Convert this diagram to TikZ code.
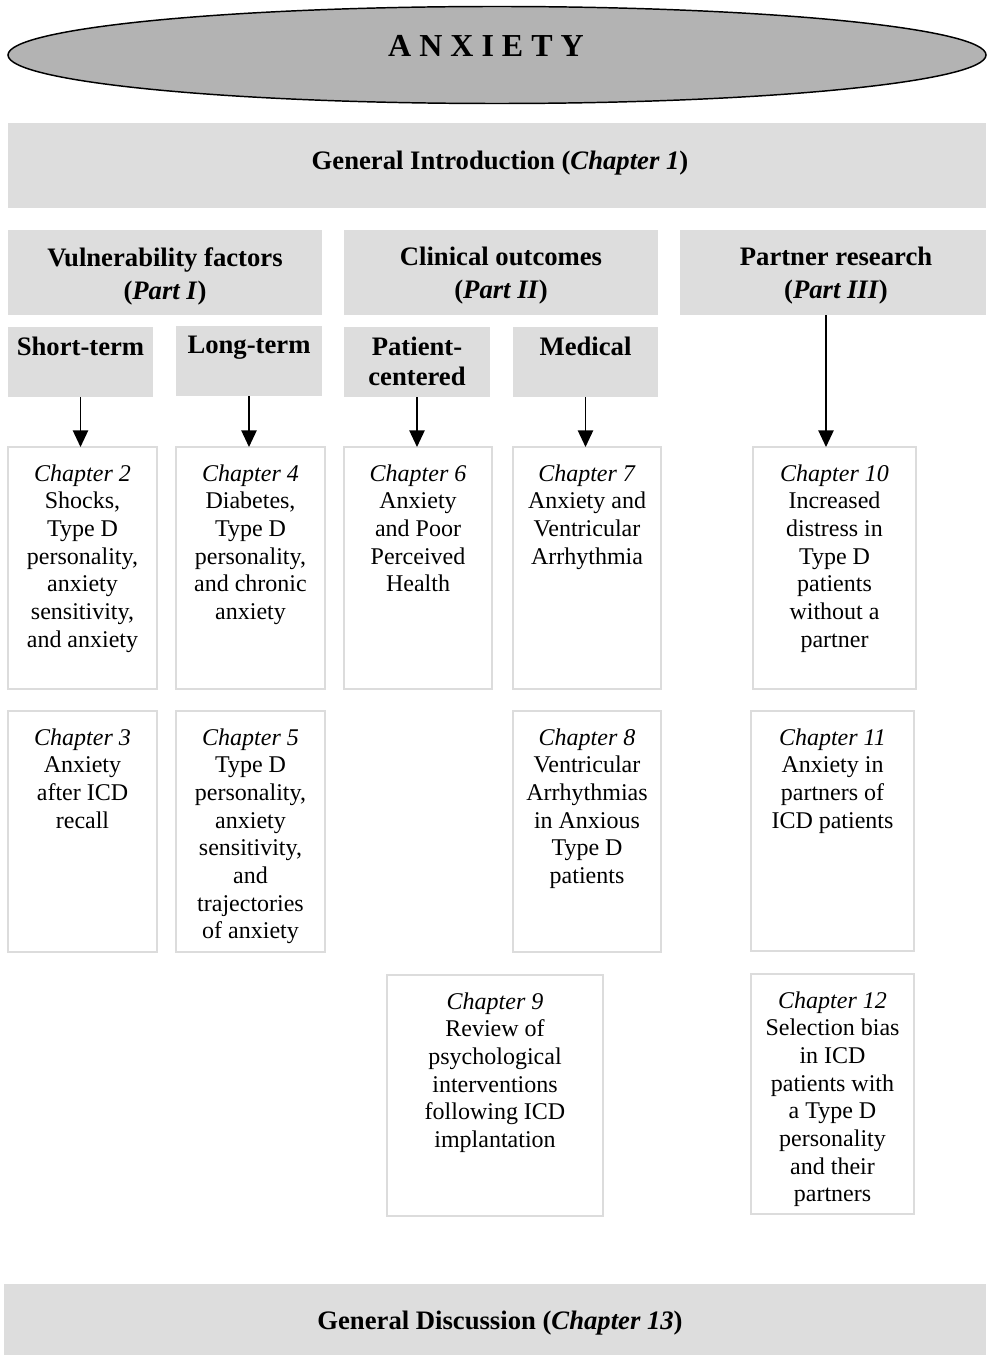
\documentclass[tikz,border=0pt]{standalone}
\usepackage{fontspec}
\setmainfont{Liberation Serif}
\usetikzlibrary{arrows.meta,shapes.geometric}
\definecolor{hdr}{HTML}{DDDDDD}
\definecolor{ellfill}{HTML}{B3B3B3}
\definecolor{bord}{HTML}{DCDCDC}
\newcommand\mkbox[6]{\node[#1, minimum width={(#5-#3)*0.75pt}, minimum height={(#6-#4)*0.75pt}] (#2) at ({(#3+#5)/2},{(#4+#6)/2}) {};}
\begin{document}
\begin{tikzpicture}[x=0.75pt,y=-0.75pt,
  gbox/.style={fill=hdr, draw=none, inner sep=0pt, outer sep=0pt},
  wbox/.style={fill=white, draw=bord, line width=1.5pt, inner sep=0pt, outer sep=0pt},
  body/.style={font=\fontsize{18}{20.75}\selectfont, align=center, inner sep=0pt, anchor=north},
  head/.style={font=\fontsize{20}{22.5}\selectfont\bfseries, align=center, inner sep=0pt, anchor=north},
  part/.style={font=\fontsize{20}{24.75}\selectfont\bfseries, align=center, inner sep=0pt},
  arr/.style={line width=1.1pt, -{Triangle[length=12.5pt, width=11.5pt]}}]
\useasboundingbox (0,0) rectangle (986,1355);

% title ellipse
\node[ellipse, fill=ellfill, draw=black, line width=1.1pt, minimum width={978*0.75pt}, minimum height={97*0.75pt}, inner sep=0pt] (anx) at (497,55) {};
\node[font=\fontsize{24}{28}\selectfont\bfseries, inner sep=0pt] (anxt) at (486,46) {A N X I E T Y};

% grey bars
\mkbox{gbox}{gi}{8}{123}{986}{208}
\node[part] (git) at (500,163) {General Introduction (\textit{Chapter 1})};

\mkbox{gbox}{vf}{8}{230}{322}{315}
\node[part] (vft) at (165,276) {Vulnerability factors\\(\textit{Part I})};
\mkbox{gbox}{co}{344}{230}{658}{315}
\node[part] (cot) at (501,276) {Clinical outcomes\\(\textit{Part II})};
\mkbox{gbox}{pr}{680}{230}{986}{315}
\node[part] (prt) at (836,276) {Partner research\\(\textit{Part III})};

\mkbox{gbox}{st}{8}{327}{153}{397}
\node[head] (stt) at ([yshift=-7.5pt]st.north) {Short-term};
\mkbox{gbox}{lt}{176}{326}{322}{396}
\node[head] (ltt) at ([yshift=-7.5pt]lt.north) {Long-term};
\mkbox{gbox}{pc}{344}{327}{490}{397}
\node[head] (pct) at ([yshift=-7.5pt]pc.north) {Patient-\\centered};
\mkbox{gbox}{md}{513}{327}{658}{397}
\node[head] (mdt) at ([yshift=-7.5pt]md.north) {Medical};

% chapter boxes
\mkbox{wbox}{c2}{8}{447}{157}{689}
\node[body] (c2t) at ([yshift=-13pt]c2.north) {\textit{Chapter 2}\\Shocks,\\Type D\\personality,\\anxiety\\sensitivity,\\and anxiety};
\mkbox{wbox}{c4}{176}{447}{325}{689}
\node[body] (c4t) at ([yshift=-13pt]c4.north) {\textit{Chapter 4}\\Diabetes,\\Type D\\personality,\\and chronic\\anxiety};
\mkbox{wbox}{c6}{344}{447}{492}{689}
\node[body] (c6t) at ([yshift=-13pt]c6.north) {\textit{Chapter 6}\\Anxiety\\and Poor\\Perceived\\Health};
\mkbox{wbox}{c7}{513}{447}{661}{689}
\node[body] (c7t) at ([yshift=-13pt]c7.north) {\textit{Chapter 7}\\Anxiety and\\Ventricular\\Arrhythmia};
\mkbox{wbox}{c10}{753}{447}{916}{689}
\node[body] (c10t) at ([yshift=-13pt]c10.north) {\textit{Chapter 10}\\Increased\\distress in\\Type D\\patients\\without a\\partner};

\mkbox{wbox}{c3}{8}{711}{157}{952}
\node[body] (c3t) at ([yshift=-13pt]c3.north) {\textit{Chapter 3}\\Anxiety\\after ICD\\recall};
\mkbox{wbox}{c5}{176}{711}{325}{952}
\node[body] (c5t) at ([yshift=-13pt]c5.north) {\textit{Chapter 5}\\Type D\\personality,\\anxiety\\sensitivity,\\and\\trajectories\\of anxiety};
\mkbox{wbox}{c8}{513}{711}{661}{952}
\node[body] (c8t) at ([yshift=-13pt]c8.north) {\textit{Chapter 8}\\Ventricular\\Arrhythmias\\in Anxious\\Type D\\patients};
\mkbox{wbox}{c11}{751}{711}{914}{951}
\node[body] (c11t) at ([yshift=-13pt]c11.north) {\textit{Chapter 11}\\Anxiety in\\partners of\\ICD patients};

\mkbox{wbox}{c9}{387}{975}{603}{1216}
\node[body] (c9t) at ([yshift=-13pt]c9.north) {\textit{Chapter 9}\\Review of\\psychological\\interventions\\following ICD\\implantation};
\mkbox{wbox}{c12}{751}{974}{914}{1214}
\node[body] (c12t) at ([yshift=-13pt]c12.north) {\textit{Chapter 12}\\Selection bias\\in ICD\\patients with\\a Type D\\personality\\and their\\partners};

\mkbox{gbox}{gd}{4}{1284}{986}{1355}
\node[part] (gdt) at (500,1323) {General Discussion (\textit{Chapter 13})};

% arrows
\draw[arr] (st.south) -- (st.south |- c2.north);
\draw[arr] (lt.south) -- (lt.south |- c4.north);
\draw[arr] (pc.south) -- (pc.south |- c6.north);
\draw[arr] (md.south) -- (md.south |- c7.north);
\draw[arr] ([xshift=-5.25pt]pr.south) -- ([xshift=-5.25pt]pr.south |- c10.north);
\end{tikzpicture}
\end{document}
